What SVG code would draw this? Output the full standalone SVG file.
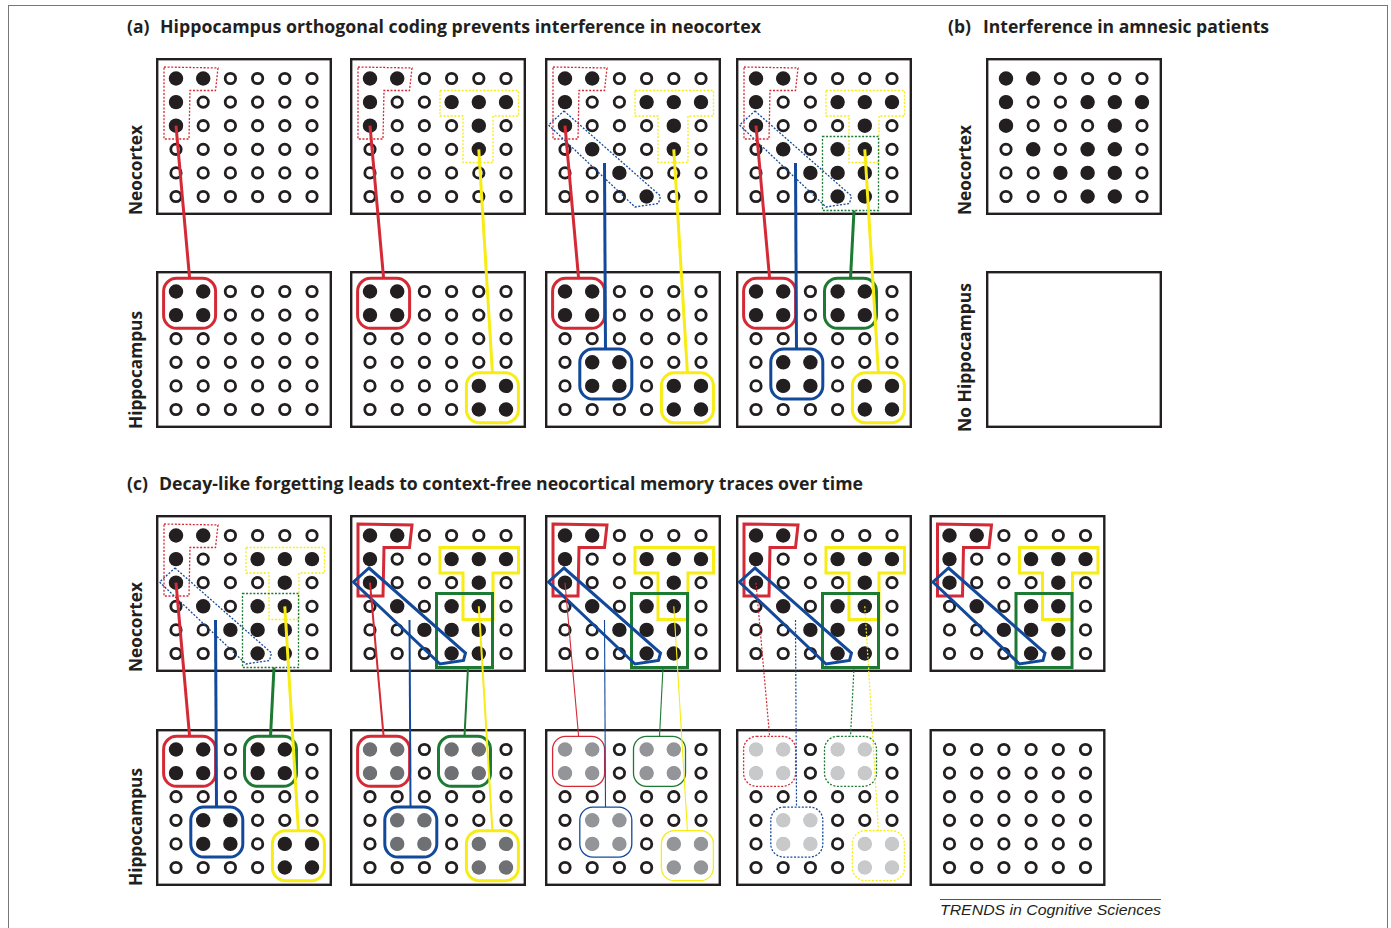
<svg xmlns="http://www.w3.org/2000/svg" xmlns:xlink="http://www.w3.org/1999/xlink" width="1391" height="928" viewBox="0 0 1391 928">
<style>
.box{fill:#fff;stroke:#231f20;stroke-width:2.4}
.dot{fill:none;stroke-width:1.3;stroke-dasharray:2 1.6}
.sol{fill:none;stroke-width:3}
.thin{fill:none;stroke-width:1.3}
.thindot{fill:none;stroke-width:1.3;stroke-dasharray:2 1.6}
.lab{font-family:"Open Sans","Liberation Sans",sans-serif;font-weight:700;font-size:17.5px;fill:#231f20}
.vlab{font-family:"Open Sans","Liberation Sans",sans-serif;font-weight:700;font-size:17px;fill:#231f20}
.foot{font-family:"Liberation Sans",Arial,sans-serif;font-style:italic;font-size:15px;fill:#231f20}
.cw3 line{stroke-width:3}
.cw2 line{stroke-width:2}
.cw1 line{stroke-width:1.1}
.cwd line{stroke-width:1.2;stroke-dasharray:2 1.6}
.r{stroke:#d42a36}.b{stroke:#13499b}.y{stroke:#f7ec13}.g{stroke:#1d7a32}
</style>
<defs>
<g id="row" fill="#fff" stroke="#231f20" stroke-width="2.8"><circle cx="20" cy="0" r="5.2"/><circle cx="47.2" cy="0" r="5.2"/><circle cx="74.4" cy="0" r="5.2"/><circle cx="101.6" cy="0" r="5.2"/><circle cx="128.8" cy="0" r="5.2"/><circle cx="156" cy="0" r="5.2"/></g>
<g id="grid"><rect x="1.2" y="1.2" width="173.6" height="154.6" fill="#fff" stroke="#231f20" stroke-width="2.4"/><use href="#row" y="20.5"/><use href="#row" y="44.1"/><use href="#row" y="67.7"/><use href="#row" y="91.3"/><use href="#row" y="114.9"/><use href="#row" y="138.5"/></g>
<circle id="d" r="7.2"/>
<g id="nL"><use href="#d" x="20" y="20.5"/><use href="#d" x="47.2" y="20.5"/><use href="#d" x="20" y="44.1"/><use href="#d" x="20" y="67.7"/></g>
<g id="nT"><use href="#d" x="101.6" y="44.1"/><use href="#d" x="128.8" y="44.1"/><use href="#d" x="156" y="44.1"/><use href="#d" x="128.8" y="67.7"/><use href="#d" x="128.8" y="91.3"/></g>
<g id="nD"><use href="#d" x="47.2" y="91.3"/><use href="#d" x="74.4" y="114.9"/><use href="#d" x="101.6" y="138.5"/></g>
<g id="nG"><use href="#d" x="101.6" y="91.3"/><use href="#d" x="101.6" y="114.9"/><use href="#d" x="128.8" y="114.9"/><use href="#d" x="128.8" y="138.5"/></g>
<g id="nAll"><use href="#nL"/><use href="#nT"/><use href="#nD"/><use href="#nG"/></g>
<polygon id="oL" points="8,9 62,10 59.5,32.5 34,32.5 33,81 8,81"/>
<polygon id="oT" points="90,32.5 168.5,32.5 168.5,58 143,58 143,104.5 113,104.5 113,58 90,58"/>
<polygon id="oD" points="19,53 115.5,138 113.5,145.5 90,149 3.5,67"/>
<rect id="oG" x="86.5" y="78.5" width="56" height="74"/>
<g id="hR"><use href="#d" x="20" y="20.5"/><use href="#d" x="47.2" y="20.5"/><use href="#d" x="20" y="44.1"/><use href="#d" x="47.2" y="44.1"/></g>
<g id="hB"><use href="#d" x="47.2" y="91.3"/><use href="#d" x="74.4" y="91.3"/><use href="#d" x="47.2" y="114.9"/><use href="#d" x="74.4" y="114.9"/></g>
<g id="hY"><use href="#d" x="128.8" y="114.9"/><use href="#d" x="156" y="114.9"/><use href="#d" x="128.8" y="138.5"/><use href="#d" x="156" y="138.5"/></g>
<g id="hG"><use href="#d" x="101.6" y="20.5"/><use href="#d" x="128.8" y="20.5"/><use href="#d" x="101.6" y="44.1"/><use href="#d" x="128.8" y="44.1"/></g>
<g id="hAll"><use href="#hR"/><use href="#hB"/><use href="#hY"/><use href="#hG"/></g>
<rect id="bR" x="7.6" y="7.3" width="52" height="50" rx="13"/>
<rect id="bB" x="34.8" y="78.1" width="52" height="50" rx="13"/>
<rect id="bY" x="116.4" y="101.7" width="52" height="50" rx="13"/>
<rect id="bG" x="88.5" y="7.3" width="52" height="50" rx="13"/>
<g id="neoDot"><use href="#oL" class="dot r"/><use href="#oT" class="dot y"/><use href="#oD" class="dot b"/><use href="#oG" class="dot g"/></g>
<g id="neoSol"><use href="#oL" class="sol r"/><use href="#oT" class="sol y"/><use href="#oG" class="sol g"/><use href="#oD" class="sol b"/></g>
</defs>

<rect x="8.5" y="5.5" width="1379" height="930" fill="none" stroke="#777" stroke-width="1"/>

<g id="labels">
<text class="lab" x="127" y="33">(a)</text>
<text class="lab" x="160" y="33" textLength="601" lengthAdjust="spacingAndGlyphs">Hippocampus orthogonal coding prevents interference in neocortex</text>
<text class="lab" x="948" y="33">(b)</text>
<text class="lab" x="983" y="33" textLength="286" lengthAdjust="spacingAndGlyphs">Interference in amnesic patients</text>
<text class="lab" x="127" y="490">(c)</text>
<text class="lab" x="159" y="490" textLength="704" lengthAdjust="spacingAndGlyphs">Decay-like forgetting leads to context-free neocortical memory traces over time</text>
<text class="vlab" transform="translate(142,215) rotate(-90)" textLength="90" lengthAdjust="spacingAndGlyphs">Neocortex</text>
<text class="vlab" transform="translate(142,429) rotate(-90)" textLength="118" lengthAdjust="spacingAndGlyphs">Hippocampus</text>
<text class="vlab" transform="translate(142,672) rotate(-90)" textLength="90" lengthAdjust="spacingAndGlyphs">Neocortex</text>
<text class="vlab" transform="translate(142,886) rotate(-90)" textLength="118" lengthAdjust="spacingAndGlyphs">Hippocampus</text>
<text class="vlab" transform="translate(971,215) rotate(-90)" textLength="90" lengthAdjust="spacingAndGlyphs">Neocortex</text>
<text class="vlab" transform="translate(971,432) rotate(-90)" textLength="149" lengthAdjust="spacingAndGlyphs">No Hippocampus</text>
<line x1="940" y1="899.5" x2="1161" y2="899.5" stroke="#555" stroke-width="1"/>
<text class="foot" x="940" y="915" textLength="221" lengthAdjust="spacingAndGlyphs">TRENDS in Cognitive Sciences</text>
</g>

<!-- Panel (a) neocortex -->
<g id="a1-neocortex" transform="translate(156,58)"><use href="#grid"/><g fill="#231f20"><use href="#nL"/></g><use href="#oL" class="dot r"/></g>
<g id="a2-neocortex" transform="translate(350,58)"><use href="#grid"/><g fill="#231f20"><use href="#nL"/><use href="#nT"/></g><use href="#oL" class="dot r"/><use href="#oT" class="dot y"/></g>
<g id="a3-neocortex" transform="translate(545,58)"><use href="#grid"/><g fill="#231f20"><use href="#nL"/><use href="#nT"/><use href="#nD"/></g><use href="#oL" class="dot r"/><use href="#oT" class="dot y"/><use href="#oD" class="dot b"/></g>
<g id="a4-neocortex" transform="translate(736,58)"><use href="#grid"/><g fill="#231f20"><use href="#nAll"/></g><use href="#neoDot"/></g>
<!-- Panel (a) hippocampus -->
<g id="a1-hippocampus" transform="translate(156,271)"><use href="#grid"/><g fill="#231f20"><use href="#hR"/></g><use href="#bR" class="sol r"/></g>
<g id="a2-hippocampus" transform="translate(350,271)"><use href="#grid"/><g fill="#231f20"><use href="#hR"/><use href="#hY"/></g><use href="#bR" class="sol r"/><use href="#bY" class="sol y"/></g>
<g id="a3-hippocampus" transform="translate(545,271)"><use href="#grid"/><g fill="#231f20"><use href="#hR"/><use href="#hY"/><use href="#hB"/></g><use href="#bR" class="sol r"/><use href="#bY" class="sol y"/><use href="#bB" class="sol b"/></g>
<g id="a4-hippocampus" transform="translate(736,271)"><use href="#grid"/><g fill="#231f20"><use href="#hAll"/></g><use href="#bR" class="sol r"/><use href="#bY" class="sol y"/><use href="#bB" class="sol b"/><use href="#bG" class="sol g"/></g>

<!-- Panel (b) -->
<g id="b-neocortex" transform="translate(986,58)"><use href="#grid"/><g fill="#231f20"><use href="#nAll"/></g></g>
<g id="b-no-hippocampus" transform="translate(986,271)"><rect x="1.2" y="1.2" width="173.6" height="154.6" class="box"/></g>

<!-- Panel (c) neocortex -->
<g id="c1-neocortex" transform="translate(156,515)"><use href="#grid"/><g fill="#231f20"><use href="#nAll"/></g><use href="#neoDot"/></g>
<g id="c2-neocortex" transform="translate(350,515)"><use href="#grid"/><g fill="#231f20"><use href="#nAll"/></g><use href="#neoSol"/></g>
<g id="c3-neocortex" transform="translate(545,515)"><use href="#grid"/><g fill="#231f20"><use href="#nAll"/></g><use href="#neoSol"/></g>
<g id="c4-neocortex" transform="translate(736,515)"><use href="#grid"/><g fill="#231f20"><use href="#nAll"/></g><use href="#neoSol"/></g>
<g id="c5-neocortex" transform="translate(929.5,515)"><use href="#grid"/><g fill="#231f20"><use href="#nAll"/></g><use href="#neoSol"/></g>
<!-- Panel (c) hippocampus -->
<g id="c1-hippocampus" transform="translate(156,729)"><use href="#grid"/><g fill="#231f20"><use href="#hAll"/></g><use href="#bR" class="sol r"/><use href="#bY" class="sol y"/><use href="#bB" class="sol b"/><use href="#bG" class="sol g"/></g>
<g id="c2-hippocampus" transform="translate(350,729)"><use href="#grid"/><g fill="#6f7073"><use href="#hAll"/></g><use href="#bR" class="sol r"/><use href="#bY" class="sol y"/><use href="#bB" class="sol b"/><use href="#bG" class="sol g"/></g>
<g id="c3-hippocampus" transform="translate(545,729)"><use href="#grid"/><g fill="#939598"><use href="#hAll"/></g><use href="#bR" class="thin r"/><use href="#bY" class="thin y"/><use href="#bB" class="thin b"/><use href="#bG" class="thin g"/></g>
<g id="c4-hippocampus" transform="translate(736,729)"><use href="#grid"/><g fill="#c8c9cb"><use href="#hAll"/></g><use href="#bR" class="thindot r"/><use href="#bY" class="thindot y"/><use href="#bB" class="thindot b"/><use href="#bG" class="thindot g"/></g>
<g id="c5-hippocampus" transform="translate(929.5,729)"><use href="#grid"/></g>

<g id="connectors" fill="none">
<g class="cw3">
<line class="r" x1="176" y1="125.7" x2="189.6" y2="278.3"/>
<line class="r" x1="370" y1="125.7" x2="383.6" y2="278.3"/>
<line class="y" x1="478.8" y1="149.3" x2="492.4" y2="372.7"/>
<line class="r" x1="565" y1="125.7" x2="578.6" y2="278.3"/>
<line class="y" x1="673.8" y1="149.3" x2="687.4" y2="372.7"/>
<line class="b" x1="604.5" y1="163" x2="605.5" y2="349.1"/>
<line class="r" x1="756" y1="125.7" x2="769.6" y2="278.3"/>
<line class="y" x1="864.8" y1="149.3" x2="878.4" y2="372.7"/>
<line class="b" x1="795.5" y1="163" x2="796.5" y2="349.1"/>
<line class="g" x1="854" y1="210.5" x2="850.5" y2="278.3"/>
</g>
<g class="cw3" transform="translate(156,0)">
<line class="r" x1="20" y1="582.7" x2="33.6" y2="736.3"/>
<line class="y" x1="128.8" y1="606.3" x2="142.4" y2="830.7"/>
<line class="b" x1="59.5" y1="620" x2="60.5" y2="807.1"/>
<line class="g" x1="118" y1="667.5" x2="114.5" y2="736.3"/>
</g>
<g class="cw2" transform="translate(350,0)">
<line class="r" x1="20" y1="582.7" x2="33.6" y2="736.3"/>
<line class="y" x1="128.8" y1="606.3" x2="142.4" y2="830.7"/>
<line class="b" x1="59.5" y1="620" x2="60.5" y2="807.1"/>
<line class="g" x1="118" y1="667.5" x2="114.5" y2="736.3"/>
</g>
<g class="cw1" transform="translate(545,0)">
<line class="r" x1="20" y1="582.7" x2="33.6" y2="736.3"/>
<line class="y" x1="128.8" y1="606.3" x2="142.4" y2="830.7"/>
<line class="b" x1="59.5" y1="620" x2="60.5" y2="807.1"/>
<line class="g" x1="118" y1="667.5" x2="114.5" y2="736.3"/>
</g>
<g class="cwd" transform="translate(736,0)">
<line class="r" x1="20" y1="582.7" x2="33.6" y2="736.3"/>
<line class="y" x1="128.8" y1="606.3" x2="142.4" y2="830.7"/>
<line class="b" x1="59.5" y1="620" x2="60.5" y2="807.1"/>
<line class="g" x1="118" y1="667.5" x2="114.5" y2="736.3"/>
</g>
</g>
</svg>
